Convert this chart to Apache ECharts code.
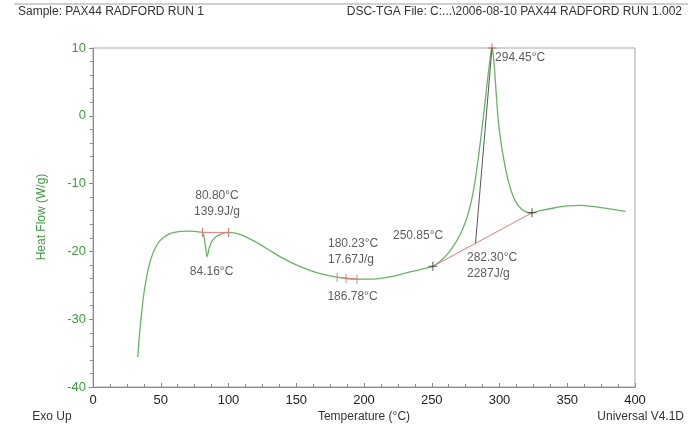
<!DOCTYPE html>
<html><head><meta charset="utf-8">
<script src="https://cdn.jsdelivr.net/npm/echarts@6/dist/echarts.min.js"></script>
<style>html,body{margin:0;padding:0;background:#fff}#c{width:688px;height:425px}</style>
</head><body><div id="c"></div>
<script>
// ---- data ----
const temperature = [33,34,35,36,37,38,40,42,44,46,48,50,53,56,60,65,70,75,79,80.8,82,83,84.16,85,86,88,91,95,100,105,110,120,130,140,150,160,170,180,186.78,195,205,215,225,235,245,250.85,256,262,267,271,275,278,281,283,285,287,289,291,292.5,293.7,294.45,295.2,296.3,297.5,299,301,303.5,306,309,312,316,320,324,330,340,350,360,370,380,393];
const heatFlow = [-35.6,-33,-30.8,-28.8,-27.1,-25.6,-23.3,-21.6,-20.4,-19.5,-18.8,-18.3,-17.8,-17.45,-17.2,-17.05,-17.0,-17.05,-17.15,-17.2,-17.9,-19.2,-20.8,-20.2,-19.3,-18.4,-17.8,-17.4,-17.2,-17.3,-17.6,-18.6,-19.8,-21.0,-22.0,-22.8,-23.4,-23.8,-24.0,-24.1,-24.1,-23.9,-23.5,-23.0,-22.5,-22.2,-21.5,-20.3,-18.9,-17.5,-15.6,-13.6,-10.8,-8.2,-5.2,-2.0,1.4,5.0,7.6,9.4,10,9.3,7.0,3.5,-0.5,-3.8,-6.8,-9.2,-11.3,-12.7,-13.7,-14.2,-14.3,-14.0,-13.6,-13.3,-13.2,-13.4,-13.7,-14.1];
const xTicks = [0,50,100,150,200,250,300,350,400];
const yTicks = [-40,-30,-20,-10,0,10];

// analysis results
const meltBaseline = [[80.8,-17.2],[100,-17.2]];
const glassBaseline = [[180.23,-23.8],[194.8,-24.1]];
const glassMarks = [[180.23,-23.8],[186.78,-24.0],[194.8,-24.1]];
const exoBaseline = [[250.85,-22.2],[324,-14.3]];
const exoDropLine = [[294.45,10],[282.3,-18.8]];
const blackCrosses = [[250.85,-22.2],[324,-14.3]];
const redCrosses = [[294.45,10]];
const labelTexts = ['80.80°C\n139.9J/g','84.16°C','180.23°C\n17.67J/g','186.78°C','250.85°C','282.30°C\n2287J/g','294.45°C'];
const labelAnchors = [[91.5,-12.95],[87.5,-23.0],[173.4,-20.0],[191.5,-26.7],[221.4,-17.7],[276,-22.1],[296.7,8.5]];
const labelAlign = ['center','center','left','center','left','left','left'];

const FONT = '"Liberation Sans", Arial, sans-serif';
const GREEN_TXT = '#3f9a3f';
const GREEN_LINE = '#67b467';
const RED = '#e07a7a';

const curve = temperature.map((t,i)=>[t,heatFlow[i]]);
const cross = 'path://M0,4.4h10v1.2h-10zM4.4,0h1.2v10h-1.2z';

const chart = echarts.init(document.getElementById('c'), null, {renderer:'canvas'});
chart.setOption({
  animation:false,
  backgroundColor:'#fff',
  textStyle:{fontFamily:FONT},
  grid:{left:93,right:53,top:48,bottom:38,show:true,borderColor:'#a8a8a8',borderWidth:1,backgroundColor:'transparent'},
  xAxis:{type:'value',min:xTicks[0],max:xTicks[xTicks.length-1],interval:50,
    axisLine:{onZero:false,lineStyle:{color:'#8a8a8a'}},
    axisTick:{inside:true,length:4,lineStyle:{color:'#8a8a8a'}},
    minorTick:{show:true,splitNumber:4,length:3,lineStyle:{color:'#8a8a8a'}},
    splitLine:{show:false},
    axisLabel:{color:'#222',fontSize:13,margin:7,fontFamily:FONT}},
  yAxis:{type:'value',min:yTicks[0],max:yTicks[yTicks.length-1],interval:10,
    axisLine:{show:true,onZero:false,lineStyle:{color:'#8a8a8a'}},
    axisTick:{show:true,inside:false,length:4,lineStyle:{color:'#8a8a8a'}},
    minorTick:{show:true,splitNumber:5,length:3,lineStyle:{color:'#8a8a8a'}},
    splitLine:{show:false},
    axisLabel:{color:GREEN_TXT,fontSize:13,margin:7,fontFamily:FONT}},
  graphic:[
    {type:'line',shape:{x1:14,y1:4,x2:688,y2:4},style:{stroke:'#a0a0a0',lineWidth:1}},
    {type:'text',left:18,top:6,style:{text:'Sample: PAX44 RADFORD RUN 1',fill:'#333',font:'12px '+FONT}},
    {type:'text',right:6,top:6,style:{text:'DSC-TGA File: C:...\\2006-08-10 PAX44 RADFORD RUN 1.002',fill:'#333',font:'12px '+FONT}},
    {type:'text',x:52,y:417,style:{text:'Exo Up',fill:'#333',font:'12px '+FONT,textAlign:'center',textVerticalAlign:'middle'}},
    {type:'text',x:364,y:417,style:{text:'Temperature (°C)',fill:'#333',font:'12px '+FONT,textAlign:'center',textVerticalAlign:'middle'}},
    {type:'text',x:684,y:417,style:{text:'Universal V4.1D',fill:'#333',font:'12px '+FONT,textAlign:'right',textVerticalAlign:'middle'}},
    {type:'text',x:42,y:217,rotation:Math.PI/2,style:{text:'Heat Flow (W/g)',fill:GREEN_TXT,font:'12px '+FONT,textAlign:'center',textVerticalAlign:'middle'}}
  ],
  series:[
    {type:'line',data:curve,showSymbol:false,smooth:0.25,lineStyle:{color:GREEN_LINE,width:1.3},z:3},
    {type:'line',data:meltBaseline,showSymbol:true,symbol:'rect',symbolSize:[1.2,9],itemStyle:{color:RED},lineStyle:{color:RED,width:1},z:4},
    {type:'line',data:glassBaseline,showSymbol:false,lineStyle:{color:RED,width:1},z:4},
    {type:'scatter',data:glassMarks,symbol:'rect',symbolSize:[1.2,9],itemStyle:{color:RED},z:4},
    {type:'line',data:exoBaseline,showSymbol:false,lineStyle:{color:RED,width:1},z:4},
    {type:'line',data:exoDropLine,showSymbol:false,lineStyle:{color:'#555',width:1},z:4},
    {type:'scatter',data:blackCrosses,symbol:cross,symbolSize:9,itemStyle:{color:'#333'},z:5},
    {type:'scatter',data:redCrosses,symbol:cross,symbolSize:9,itemStyle:{color:'#c55'},z:5},
    {type:'scatter',symbolSize:0,z:6,
      data:labelAnchors.map((p,i)=>({value:p,name:labelTexts[i],label:{align:labelAlign[i]}})),
      label:{show:true,position:'inside',formatter:p=>p.name,color:'#333',fontSize:12,lineHeight:16,fontFamily:FONT}}
  ]
});
</script></body></html>
